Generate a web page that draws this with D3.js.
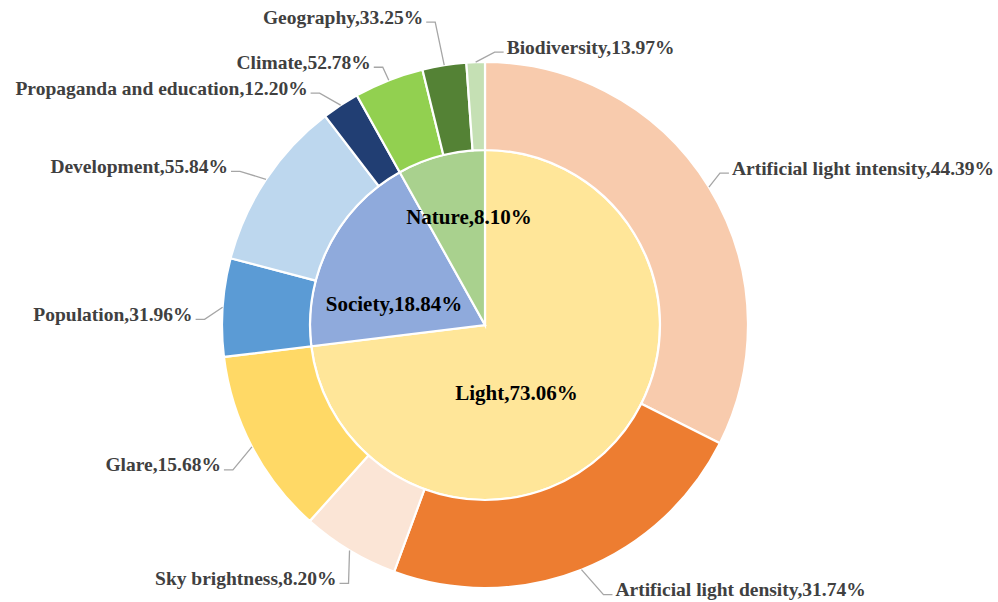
<!DOCTYPE html>
<html>
<head>
<meta charset="utf-8">
<script src="https://cdn.jsdelivr.net/npm/d3@7"></script>
<style>
  html, body { margin: 0; padding: 0; background: #fff; }
  svg { display: block; }
</style>
</head>
<body>
<svg id="chart" width="998" height="602"></svg>
<script>
// ---- data ----
const groups = ["Light", "Society", "Nature"];
const groupShares = [73.06, 18.84, 8.10];
const groupColors = ["#FFE699", "#8FAADC", "#A9D18E"];

const subNames = [
  "Artificial light intensity", "Artificial light density", "Sky brightness", "Glare",
  "Population", "Development", "Propaganda and education",
  "Climate", "Geography", "Biodiversity"
];
const subParents = ["Light", "Light", "Light", "Light", "Society", "Society", "Society", "Nature", "Nature", "Nature"];
const subShares = [44.39, 31.74, 8.20, 15.68, 31.96, 55.84, 12.20, 52.78, 33.25, 13.97];
const subColors = ["#F8CBAD", "#ED7D31", "#FBE5D6", "#FFD966", "#5B9BD5", "#BDD7EE", "#213E73", "#92D050", "#548235", "#C5E0B4"];

// ---- layout (label placement, not data) ----
const innerNudge = [[-34, 10], [-13, 19], [6, -23]];
const elbowOffset = [[11, -14], [22, 25], [-1, 33], [-19, 23], [-18, 12], [-26, -8], [-21, -12], [-6, -13], [-9, -43], [19, -10]];
const labelSide = [1, 1, -1, -1, -1, -1, -1, -1, -1, 1];
const FONT = "'Liberation Serif', 'Times New Roman', serif";

const cx = 485, cy = 325, rInner = 175, rOuter = 263;
const svg = d3.select("#chart");
const g = svg.append("g").attr("transform", `translate(${cx},${cy})`);

const pie = d3.pie().sort(null).value(d => d.v).startAngle(0).endAngle(2 * Math.PI);

// inner pie
const inner = pie(groups.map((n, i) => ({ n, v: groupShares[i], c: groupColors[i] })));
const arcIn = d3.arc().innerRadius(0).outerRadius(rInner);
g.selectAll("path.in").data(inner).join("path")
  .attr("class", "in").attr("d", arcIn)
  .attr("fill", d => d.data.c).attr("stroke", "#fff").attr("stroke-width", 2.2);

// outer ring: weight each child by parent share
const outerData = subNames.map((n, i) => {
  const gi = groups.indexOf(subParents[i]);
  return { n, v: groupShares[gi] * subShares[i] / 100, s: subShares[i], c: subColors[i], i };
});
const outer = pie(outerData);
const arcOut = d3.arc().innerRadius(rInner).outerRadius(rOuter);
g.selectAll("path.out").data(outer).join("path")
  .attr("class", "out").attr("d", arcOut)
  .attr("fill", d => d.data.c).attr("stroke", "#fff").attr("stroke-width", 2.2);

// inner labels
g.selectAll("text.in").data(inner).join("text")
  .attr("class", "in")
  .attr("x", (d, i) => arcIn.centroid(d)[0] + innerNudge[i][0])
  .attr("y", (d, i) => arcIn.centroid(d)[1] + innerNudge[i][1])
  .attr("text-anchor", "middle").attr("dominant-baseline", "central")
  .attr("font-family", FONT).attr("font-weight", "bold")
  .attr("font-size", 21).attr("fill", "#000")
  .text(d => `${d.data.n},${d.data.v.toFixed(2)}%`);

// outer labels with leader lines
outer.forEach((d, i) => {
  const mid = (d.startAngle + d.endAngle) / 2;
  const ex = rOuter * Math.sin(mid), ey = -rOuter * Math.cos(mid);
  const bx = ex + elbowOffset[i][0], by = ey + elbowOffset[i][1];
  const right = labelSide[i] > 0;
  const hx = bx + (right ? 9 : -9);
  g.append("polyline")
    .attr("points", `${ex},${ey} ${bx},${by} ${hx},${by}`)
    .attr("fill", "none").attr("stroke", "#A6A6A6").attr("stroke-width", 1.3);
  g.append("text")
    .attr("x", hx + (right ? 3 : -3)).attr("y", by - 5)
    .attr("text-anchor", right ? "start" : "end")
    .attr("dominant-baseline", "central")
    .attr("font-family", FONT).attr("font-weight", "bold")
    .attr("font-size", 19.5).attr("fill", "#404040")
    .text(`${d.data.n},${d.data.s.toFixed(2)}%`);
});
</script>
</body>
</html>
